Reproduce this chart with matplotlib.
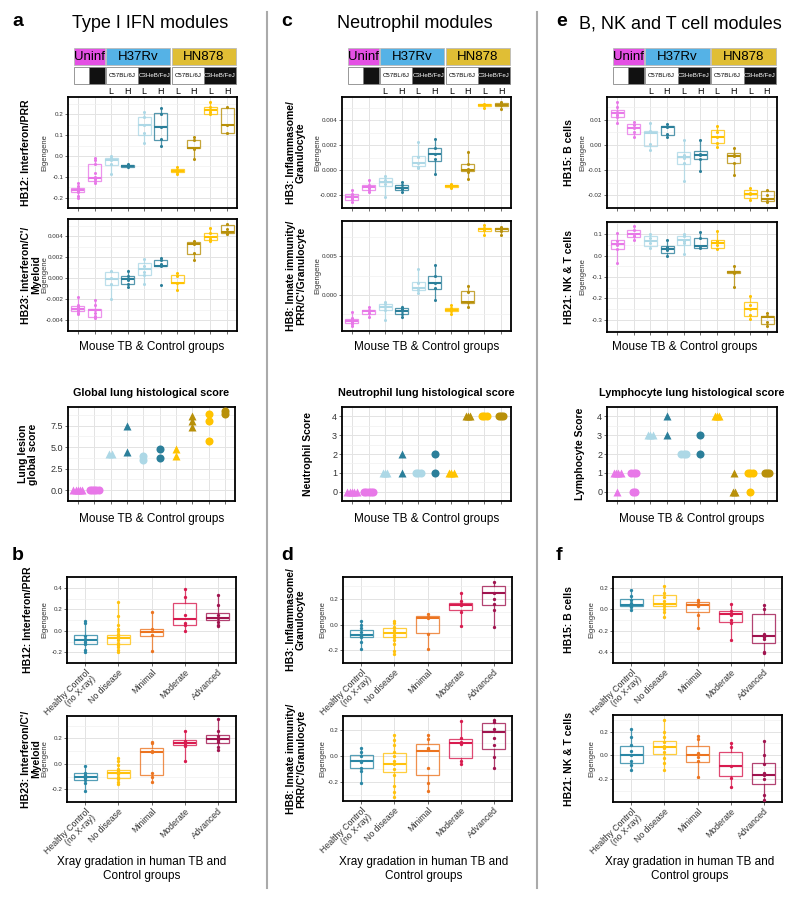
import matplotlib
matplotlib.use('Agg')
import matplotlib.pyplot as plt
import numpy as np
from matplotlib.colors import to_rgba
from matplotlib.lines import Line2D
from matplotlib.patches import Rectangle
from matplotlib.ticker import FormatStrFormatter

plt.rcParams['font.family'] = ['Liberation Sans', 'DejaVu Sans']

W, H = 800, 899

# -----------------------------------------------------------------------
# Groups, labels and colours
# -----------------------------------------------------------------------
INFECTIONS = ['Uninf', 'H37Rv', 'HN878']
STRAINS = ['', '', 'C57BL/6J', 'C3HeB/FeJ', 'C57BL/6J', 'C3HeB/FeJ']
DOSES = ['L', 'H', 'L', 'H', 'L', 'H', 'L', 'H']
HUMAN_GROUPS = ['Healthy Control\n(no X-ray)', 'No disease', 'Minimal',
                'Moderate', 'Advanced']

MOUSE_COLORS = ['#E878E8', '#E878E8', '#ADD8E6', '#2B7F9A', '#ADD8E6',
                '#2B7F9A', '#FFC300', '#B8900A', '#FFC300', '#B8900A']
MOUSE_SHAPES = ['^', 'o', '^', '^', 'o', 'o', '^', '^', 'o', 'o']
HUMAN_COLORS = ['#2A87A5', '#FFC20E', '#EC7420', '#D81B4F', '#A0144F']
HEADER_COLORS = ['#E450E4', '#55B2E6', '#E0BE35']

# -----------------------------------------------------------------------
# Data: boxes are [whisker low, q1, median, q3, whisker high]
# -----------------------------------------------------------------------
a_hb12_box = [[-0.19, -0.171, -0.165, -0.153, -0.13],
              [-0.13, -0.118, -0.105, -0.038, -0.01],
              [-0.085, -0.045, -0.02, -0.01, 0.0],
              [-0.058, -0.053, -0.048, -0.043, -0.038],
              [0.063, 0.10, 0.148, 0.188, 0.21],
              [0.047, 0.078, 0.14, 0.206, 0.233],
              [-0.085, -0.079, -0.07, -0.061, -0.055],
              [-0.015, 0.038, 0.04, 0.076, 0.092],
              [0.195, 0.203, 0.22, 0.237, 0.264],
              [0.104, 0.11, 0.15, 0.232, 0.237]]
a_hb12_pts = [[-0.13, -0.145, -0.155, -0.16, -0.165, -0.17, -0.175, -0.19, -0.2],
              [-0.01, -0.02, -0.04, -0.08, -0.1, -0.11, -0.12, -0.13],
              [0.0, -0.01, -0.02, -0.04, -0.085],
              [-0.04, -0.05, -0.055],
              [0.21, 0.19, 0.15, 0.11, 0.065],
              [0.23, 0.2, 0.14, 0.08, 0.05],
              [-0.055, -0.065, -0.075, -0.085],
              [0.09, 0.075, 0.04, 0.035, -0.015],
              [0.26, 0.235, 0.22, 0.21, 0.2],
              [0.235, 0.15, 0.11]]

a_hb23_box = [[-0.0034, -0.00308, -0.00287, -0.00267, -0.00184],
              [-0.00385, -0.00367, -0.0030, -0.00287, -0.00213],
              [-0.0020, -0.00065, -0.0001, 0.0006, 0.0007],
              [-0.0008, -0.0005, -0.0001, 0.00024, 0.00077],
              [-0.0005, 0.00033, 0.0009, 0.00142, 0.0018],
              [0.00113, 0.00113, 0.00121, 0.00172, 0.00187],
              [-0.0011, -0.00044, -0.0004, 0.0003, 0.0005],
              [0.0017, 0.0023, 0.0033, 0.0034, 0.00356],
              [0.00344, 0.00367, 0.00394, 0.00433, 0.00483],
              [0.00415, 0.00433, 0.00437, 0.00504, 0.0052]]
a_hb23_pts = [[-0.0018, -0.0025, -0.0027, -0.0029, -0.003, -0.0031, -0.0033, -0.0034],
              [-0.0021, -0.0025, -0.003, -0.0033, -0.0036, -0.0038],
              [0.0007, 0.0, -0.0005, -0.002],
              [0.0007, 0.0002, -0.0002, -0.0005, -0.0008],
              [0.0018, 0.0012, 0.0006, 0.0003, -0.0005],
              [0.0019, 0.0017, 0.0014, 0.0012, -0.0006],
              [0.0005, 0.0002, -0.0004, -0.0011],
              [0.0035, 0.0033, 0.0024, 0.0017],
              [0.0048, 0.0043, 0.0039, 0.0037, 0.0035],
              [0.0052, 0.0047, 0.0044, 0.0042]]

a_hist = [[0, 0, 0, 0, 0], [0, 0, 0, 0, 0], [4.2, 4.2], [7.5, 4.5], [4.0, 3.5],
          [4.75, 3.75], [4.75, 4.0], [8.6, 8.0, 7.3], [8.8, 8.0, 5.75], [9.25, 8.8]]

b_hb12_box = [[-0.2, -0.121, -0.09, -0.042, 0.09],
              [-0.2, -0.121, -0.07, -0.035, 0.27],
              [-0.195, -0.047, -0.015, 0.02, 0.168],
              [-0.005, 0.05, 0.11, 0.262, 0.39],
              [0.035, 0.10, 0.12, 0.168, 0.33]]
b_hb12_pts = [[0.09, 0.07, -0.05, -0.08, -0.09, -0.1, -0.12, -0.18, -0.2],
              [0.27, 0.14, 0.05, 0.02, 0.0, -0.03, -0.05, -0.07, -0.09, -0.11,
               -0.13, -0.15, -0.18, -0.2],
              [0.17, 0.02, -0.04, -0.19],
              [0.39, 0.31, 0.15, 0.07, 0.05, 0.0],
              [0.33, 0.24, 0.15, 0.12, 0.08, 0.05, 0.04]]

b_hb23_box = [[-0.215, -0.127, -0.105, -0.074, -0.02],
              [-0.163, -0.11, -0.075, -0.046, 0.048],
              [-0.144, -0.084, 0.09, 0.125, 0.172],
              [0.02, 0.146, 0.165, 0.184, 0.256],
              [0.112, 0.165, 0.195, 0.225, 0.352]]
b_hb23_pts = [[-0.02, -0.07, -0.09, -0.1, -0.11, -0.13, -0.15, -0.215],
              [0.048, 0.02, -0.01, -0.04, -0.06, -0.08, -0.1, -0.12, -0.14, -0.16],
              [0.17, 0.16, 0.1, 0.09, -0.07, -0.1, -0.14],
              [0.256, 0.18, 0.17, 0.16, 0.15, 0.14, 0.02],
              [0.35, 0.26, 0.22, 0.2, 0.19, 0.17, 0.13, 0.11]]

c_hb3_box = [[-0.00256, -0.00235, -0.00213, -0.00189, -0.0016],
             [-0.00176, -0.00155, -0.00133, -0.00115, -0.00075],
             [-0.0021, -0.00128, -0.00096, -0.0006, -0.00043],
             [-0.00176, -0.00155, -0.0014, -0.00115, -0.0009],
             [0.00019, 0.00032, 0.00059, 0.00117, 0.0023],
             [-0.0003, 0.00072, 0.00133, 0.00179, 0.0025],
             [-0.0014, -0.00133, -0.00125, -0.00115, -0.0011],
             [-0.00067, -0.00008, 0.00005, 0.00053, 0.00152],
             [0.0050, 0.00518, 0.00525, 0.0053, 0.0053],
             [0.00485, 0.00512, 0.0052, 0.00539, 0.00547]]
c_hb3_pts = [[-0.0016, -0.0019, -0.002, -0.0021, -0.0022, -0.0023, -0.0025],
             [-0.00075, -0.0012, -0.0013, -0.0014, -0.0016, -0.00176],
             [-0.00043, -0.0008, -0.0011, -0.0021],
             [-0.0009, -0.0012, -0.0014, -0.0015, -0.00176],
             [0.0023, 0.0011, 0.0006, 0.0003, 0.0002],
             [0.0025, 0.0018, 0.0013, 0.0009, -0.0003],
             [-0.0011, -0.0012, -0.0013, -0.0014],
             [0.0015, 0.0005, 0.0001, -0.0001, -0.00067],
             [0.0053, 0.0052, 0.005],
             [0.0055, 0.0053, 0.0052, 0.0049]]

c_hb8_box = [[-0.00405, -0.00362, -0.00336, -0.0031, -0.0022],
             [-0.00285, -0.00241, -0.00211, -0.0019, -0.00155],
             [-0.0033, -0.00198, -0.00155, -0.00112, -0.0009],
             [-0.00293, -0.00241, -0.0021, -0.00168, -0.00147],
             [0.00026, 0.0006, 0.0009, 0.00168, 0.0034],
             [-0.0007, 0.00082, 0.00155, 0.00241, 0.0039],
             [-0.00241, -0.00211, -0.0019, -0.00168, -0.00134],
             [-0.00155, -0.00099, -0.0009, 0.00047, 0.00125],
             [0.0078, 0.0083, 0.0085, 0.0086, 0.0091],
             [0.0077, 0.0083, 0.0085, 0.0086, 0.0088]]
c_hb8_pts = [[-0.0022, -0.003, -0.0033, -0.0034, -0.0035, -0.0037, -0.004],
             [-0.00155, -0.0019, -0.0021, -0.0023, -0.0028],
             [-0.0009, -0.0012, -0.0016, -0.0019, -0.0033],
             [-0.0015, -0.0018, -0.0021, -0.0024, -0.0029],
             [0.0034, 0.0015, 0.0009, 0.0007, 0.0003],
             [0.0039, 0.0024, 0.0015, 0.0009, -0.0007],
             [-0.0013, -0.0017, -0.0019, -0.0021, -0.0024],
             [0.0012, 0.0004, -0.0009, -0.0015],
             [0.0091, 0.0086, 0.0084, 0.0078],
             [0.0088, 0.0085, 0.0083, 0.0077]]

c_hist = [[0, 0, 0, 0, 0], [0, 0, 0, 0, 0], [1, 1, 1], [2, 1], [1, 1, 1],
          [2, 1], [1, 1, 1], [4, 4, 4], [4, 4, 4], [4, 4, 4]]

d_hb3_box = [[-0.187, -0.097, -0.085, -0.044, 0.03],
             [-0.23, -0.10, -0.065, -0.03, 0.03],
             [-0.187, -0.065, 0.05, 0.063, 0.08],
             [-0.01, 0.114, 0.155, 0.172, 0.255],
             [-0.02, 0.153, 0.25, 0.30, 0.335]]
d_hb3_pts = [[0.03, 0.0, -0.03, -0.06, -0.08, -0.09, -0.1, -0.14, -0.19],
             [0.03, 0.01, -0.02, -0.04, -0.06, -0.08, -0.1, -0.12, -0.15, -0.21, -0.23],
             [0.08, 0.06, 0.05, -0.07, -0.19],
             [0.25, 0.18, 0.16, 0.15, 0.1, -0.01],
             [0.33, 0.25, 0.2, 0.16, 0.11, -0.02]]

d_hb8_box = [[-0.209, -0.093, -0.04, 0.01, 0.057],
             [-0.317, -0.124, -0.06, 0.023, 0.16],
             [-0.274, -0.15, 0.04, 0.088, 0.16],
             [-0.065, -0.013, 0.10, 0.132, 0.271],
             [-0.093, 0.054, 0.18, 0.255, 0.281]]
d_hb8_pts = [[0.057, 0.03, 0.0, -0.04, -0.05, -0.09, -0.12, -0.21],
             [0.16, 0.12, 0.08, 0.03, 0.0, -0.04, -0.06, -0.1, -0.15, -0.23, -0.28, -0.32],
             [0.16, 0.13, 0.06, 0.05, -0.09, -0.21, -0.27],
             [0.27, 0.14, 0.11, 0.09, -0.04, -0.065],
             [0.28, 0.26, 0.21, 0.14, 0.08, -0.01, -0.09]]

e_hb15_box = [[0.0088, 0.0112, 0.0125, 0.0138, 0.017],
              [0.0031, 0.0044, 0.0066, 0.0083, 0.0092],
              [-0.002, -0.0005, 0.0049, 0.0055, 0.0088],
              [0.0031, 0.0040, 0.0070, 0.0075, 0.0083],
              [-0.0142, -0.0077, -0.0048, -0.0029, 0.0021],
              [-0.0105, -0.0055, -0.0040, -0.0025, 0.0021],
              [-0.0009, 0.0008, 0.0030, 0.0060, 0.0075],
              [-0.012, -0.0073, -0.0045, -0.0031, -0.0014],
              [-0.0217, -0.0209, -0.0195, -0.0180, -0.0171],
              [-0.0226, -0.0222, -0.0213, -0.0184, -0.0177]]
e_hb15_pts = [[0.017, 0.015, 0.013, 0.0125, 0.012, 0.011, 0.0088],
              [0.0092, 0.008, 0.0066, 0.005, 0.0031],
              [0.0088, 0.0055, 0.0005, -0.002],
              [0.0083, 0.007, 0.0045, 0.0031],
              [0.0021, -0.004, -0.005, -0.007, -0.0142],
              [0.0021, -0.0035, -0.004, -0.0055, -0.0105],
              [0.0075, 0.005, 0.003, 0.0009, -0.0009],
              [-0.0014, -0.004, -0.0045, -0.007, -0.012],
              [-0.0171, -0.019, -0.0195, -0.0217],
              [-0.0177, -0.02, -0.0215, -0.0226]]

e_hb21_box = [[-0.033, 0.03, 0.055, 0.074, 0.107],
              [0.071, 0.087, 0.10, 0.118, 0.138],
              [0.033, 0.045, 0.07, 0.09, 0.102],
              [-0.003, 0.014, 0.03, 0.043, 0.071],
              [0.009, 0.051, 0.075, 0.09, 0.102],
              [0.037, 0.037, 0.045, 0.084, 0.11],
              [0.031, 0.033, 0.06, 0.071, 0.115],
              [-0.146, -0.084, -0.078, -0.073, -0.048],
              [-0.295, -0.281, -0.25, -0.219, -0.188],
              [-0.332, -0.319, -0.29, -0.282, -0.27]]
e_hb21_pts = [[0.107, 0.07, 0.055, 0.05, 0.03, -0.033],
              [0.138, 0.12, 0.1, 0.09, 0.071],
              [0.102, 0.08, 0.06, 0.033],
              [0.071, 0.04, 0.025, -0.003],
              [0.102, 0.09, 0.07, 0.06, 0.009],
              [0.11, 0.08, 0.045, 0.037],
              [0.115, 0.07, 0.05, 0.031],
              [-0.048, -0.075, -0.08, -0.146],
              [-0.188, -0.23, -0.25, -0.28, -0.295],
              [-0.27, -0.285, -0.31, -0.332]]

e_hist = [[1, 1, 1, 1, 0], [1, 1, 1, 0, 0], [3, 3, 3], [4, 3], [2, 2, 2],
          [3, 2], [4, 4, 4], [1, 0, 0], [1, 1, 1, 0], [1, 1, 1]]

f_hb15_box = [[-0.005, 0.027, 0.04, 0.093, 0.18],
              [-0.075, 0.027, 0.05, 0.133, 0.22],
              [-0.168, -0.027, 0.04, 0.067, 0.093],
              [-0.288, -0.115, -0.045, -0.019, 0.053],
              [-0.408, -0.312, -0.245, -0.04, 0.04]]
f_hb15_pts = [[0.18, 0.12, 0.09, 0.06, 0.04, 0.03, 0.02, -0.005],
              [0.22, 0.15, 0.11, 0.08, 0.05, 0.03, 0.0, -0.03, -0.075],
              [0.09, 0.07, 0.04, 0.03, -0.05, -0.17],
              [0.05, -0.02, -0.04, -0.05, -0.1, -0.13, -0.29],
              [0.04, 0.0, -0.23, -0.26, -0.28, -0.4, -0.41]]

f_hb21_box = [[-0.121, -0.059, 0.0, 0.082, 0.217],
              [-0.121, 0.011, 0.07, 0.118, 0.301],
              [-0.183, -0.051, 0.0, 0.076, 0.16],
              [-0.262, -0.172, -0.09, 0.025, 0.104],
              [-0.369, -0.239, -0.16, -0.059, 0.124]]
f_hb21_pts = [[0.22, 0.15, 0.09, 0.04, 0.0, -0.05, -0.08, -0.12],
              [0.3, 0.2, 0.15, 0.11, 0.08, 0.06, 0.03, -0.02, -0.06, -0.12],
              [0.16, 0.14, 0.02, -0.01, -0.05, -0.18],
              [0.1, 0.07, -0.09, -0.19, -0.26],
              [0.12, 0.0, -0.07, -0.15, -0.16, -0.2, -0.33, -0.37]]


# -----------------------------------------------------------------------
# Helpers
# -----------------------------------------------------------------------

def px_axes(fig, x0, y0, x1, y1):
    return fig.add_axes([x0 / W, 1 - y1 / H, (x1 - x0) / W, (y1 - y0) / H])


def px_text(fig, x, y, s, **kw):
    kw.setdefault('ha', 'center')
    kw.setdefault('va', 'center')
    fig.text(x / W, 1 - y / H, s, **kw)


def style_axes(ax, n, xlim, ylim, yticks, yfmt, ticksize=4.5):
    ax.set_xlim(*xlim)
    ax.set_ylim(*ylim)
    ax.set_xticks(range(1, n + 1))
    ax.set_yticks(yticks)
    step = yticks[1] - yticks[0]
    ax.set_yticks(np.arange(yticks[0] - step / 2, yticks[-1] + step, step), minor=True)
    ax.yaxis.set_major_formatter(FormatStrFormatter(yfmt))
    ax.grid(True, which='major', color='#E3E3E3', lw=0.7)
    ax.grid(True, which='minor', axis='y', color='#F0F0F0', lw=0.5)
    ax.set_axisbelow(True)
    for sp in ax.spines.values():
        sp.set_linewidth(1.3)
    ax.tick_params(axis='y', which='minor', length=0)
    ax.tick_params(axis='both', which='major', labelsize=ticksize, length=2,
                   width=0.5, pad=1.5, colors='#333333', labelcolor='#333333')
    ax.set_xticklabels([])


def draw_boxes(ax, boxes, points, colors, width, ms=2.2):
    for i, (b, pts, c) in enumerate(zip(boxes, points, colors)):
        st = dict(whislo=b[0], q1=b[1], med=b[2], q3=b[3], whishi=b[4], fliers=[])
        edge = to_rgba(c, 0.8)
        ax.bxp([st], positions=[i + 1], widths=width, showcaps=False,
               patch_artist=True, manage_ticks=False,
               boxprops=dict(facecolor='none', edgecolor=edge, lw=0.9),
               medianprops=dict(color=c, lw=1.5),
               whiskerprops=dict(color=edge, lw=0.9))
        ax.plot([i + 1] * len(pts), pts, 'o', color=c, ms=ms, mec='none', zorder=3)


def draw_hist(ax, values):
    for i, vals in enumerate(values):
        vals = np.asarray(vals, dtype=float)
        for v in np.unique(vals):
            m = int(np.sum(vals == v))
            offs = (np.arange(m) - (m - 1) / 2) * 0.14
            ax.plot(i + 1 + offs, [v] * m, MOUSE_SHAPES[i], color=MOUSE_COLORS[i],
                    ms=5.8, mec='none', zorder=3)


def draw_header(fig, x0, x1):
    ax = px_axes(fig, x0, 46, x1, 97)
    ax.set_xlim(0.4, 10.6)
    ax.set_ylim(97, 46)
    ax.axis('off')
    spans = [(0.75, 2.62), (2.68, 6.58), (6.66, 10.55)]
    for (a, b), name, col in zip(spans, INFECTIONS, HEADER_COLORS):
        ax.add_patch(Rectangle((a, 48), b - a, 17, facecolor=col,
                               edgecolor='#BBBBBB', lw=0.6))
        ax.text((a + b) / 2, 57, name, ha='center', va='center', fontsize=9.5)
    cuts = [0.75, 1.68, 2.62, 2.68, 4.63, 6.58, 6.66, 8.6, 10.55]
    strain_spans = [(cuts[0], cuts[1]), (cuts[1], cuts[2]), (cuts[3], cuts[4]),
                    (cuts[4], cuts[5]), (cuts[6], cuts[7]), (cuts[7], cuts[8])]
    for k, ((a, b), name) in enumerate(zip(strain_spans, STRAINS)):
        face = 'white' if k % 2 == 0 else '#111111'
        tc = 'black' if k % 2 == 0 else 'white'
        ax.add_patch(Rectangle((a, 67), b - a, 17, facecolor=face,
                               edgecolor='#888888', lw=0.6))
        if name:
            ax.text((a + b) / 2, 75.5, name, ha='center', va='center',
                    fontsize=4.4, color=tc)
    for k, d in enumerate(DOSES):
        ax.text(k + 3, 91.5, d, ha='center', va='center', fontsize=6.5)


def mouse_panel(fig, x0, y0, x1, y1, boxes, pts, ylim, yticks, yfmt,
                label, label_x, eig_x):
    ax = px_axes(fig, x0, y0, x1, y1)
    style_axes(ax, 10, (0.4, 10.6), ylim, yticks, yfmt)
    draw_boxes(ax, boxes, pts, MOUSE_COLORS, 0.78)
    px_text(fig, label_x, (y0 + y1) / 2, label, rotation=90, fontsize=7.5,
            fontweight='bold', linespacing=1.0)
    px_text(fig, eig_x, (y0 + y1) / 2, 'Eigengene', rotation=90, fontsize=5.5,
            color='#333333')
    return ax


def human_panel(fig, x0, y0, x1, y1, boxes, pts, ylim, yticks, yfmt,
                label, label_x, eig_x):
    ax = px_axes(fig, x0, y0, x1, y1)
    style_axes(ax, 5, (0.45, 5.55), ylim, yticks, yfmt)
    draw_boxes(ax, boxes, pts, HUMAN_COLORS, 0.7, ms=2.4)
    ax.set_xticklabels(HUMAN_GROUPS, rotation=45, ha='right',
                       rotation_mode='anchor', fontsize=6.3, linespacing=0.95)
    ax.tick_params(axis='x', labelcolor='#333333', pad=1.5)
    px_text(fig, label_x, (y0 + y1) / 2, label, rotation=90, fontsize=7.5,
            fontweight='bold', linespacing=1.0)
    px_text(fig, eig_x, (y0 + y1) / 2, 'Eigengene', rotation=90, fontsize=5.5,
            color='#333333')
    return ax


def hist_panel(fig, x0, x1, values, ylim, yticks, yfmt, title, ylabel, ylabel_x):
    y0, y1 = 407, 501
    ax = px_axes(fig, x0, y0, x1, y1)
    style_axes(ax, 10, (0.4, 10.6), ylim, yticks, yfmt, ticksize=6.5)
    draw_hist(ax, values)
    px_text(fig, (x0 + x1) / 2, 393, title, fontsize=7.8, fontweight='bold')
    px_text(fig, ylabel_x, (y0 + y1) / 2, ylabel, rotation=90, fontsize=7.5,
            fontweight='bold', linespacing=1.0)
    px_text(fig, (x0 + x1) / 2, 519, 'Mouse TB & Control groups', fontsize=8.5)
    return ax


# -----------------------------------------------------------------------
# Figure
# -----------------------------------------------------------------------
fig = plt.figure(figsize=(W / 100, H / 100), dpi=100)

for xs in (267, 537):
    fig.add_artist(Line2D([xs / W, xs / W], [1 - 12 / H, 1 - 888 / H],
                          color='#AAAAAA', lw=1.5))

XLABEL_H = 'Xray gradation in human TB and\nControl groups'

# column a / b
px_text(fig, 18, 22, 'a', fontsize=14, fontweight='bold')
px_text(fig, 150, 24, 'Type I IFN modules', fontsize=13)
draw_header(fig, 68, 237)
mouse_panel(fig, 68, 97, 237, 208, a_hb12_box, a_hb12_pts, (-0.225, 0.284),
            [-0.2, -0.1, 0.0, 0.1, 0.2], '%.1f', 'HB12: Interferon/PRR', 26, 45)
mouse_panel(fig, 68, 219, 237, 331, a_hb23_box, a_hb23_pts, (-0.00427, 0.00563),
            [-0.004, -0.002, 0.0, 0.002, 0.004], '%.3f',
            "HB23: Interferon/C'/\nMyeloid", 31, 45)
px_text(fig, 152, 347, 'Mouse TB & Control groups', fontsize=8.5)
hist_panel(fig, 68, 235, a_hist, (-0.47, 9.67), [0.0, 2.5, 5.0, 7.5], '%.1f',
           'Global lung histological score', 'Lung lesion\nglobal score', 28)
px_text(fig, 18, 555, 'b', fontsize=14, fontweight='bold')
human_panel(fig, 67, 577, 236, 663, b_hb12_box, b_hb12_pts, (-0.222, 0.41),
            [-0.2, 0.0, 0.2, 0.4], '%.1f', 'HB12: Interferon/PRR', 28, 45)
human_panel(fig, 67, 716, 236, 802, b_hb23_box, b_hb23_pts, (-0.24, 0.376),
            [-0.2, 0.0, 0.2], '%.1f', "HB23: Interferon/C'/\nMyeloid", 31, 45)
px_text(fig, 142, 869, XLABEL_H, fontsize=8.5, linespacing=1.3)

# column c / d
px_text(fig, 287, 22, 'c', fontsize=14, fontweight='bold')
px_text(fig, 415, 24, 'Neutrophil modules', fontsize=13)
draw_header(fig, 342, 511)
mouse_panel(fig, 342, 97, 511, 208, c_hb3_box, c_hb3_pts, (-0.003, 0.00587),
            [-0.002, 0.0, 0.002, 0.004], '%.3f',
            'HB3: Inflammasome/\nGranulocyte', 296, 318)
mouse_panel(fig, 342, 221, 511, 331, c_hb8_box, c_hb8_pts, (-0.00466, 0.00957),
            [0.0, 0.005], '%.3f',
            "HB8: Innate immunity/\nPRR/C'/Granulocyte", 296, 318)
px_text(fig, 427, 347, 'Mouse TB & Control groups', fontsize=8.5)
hist_panel(fig, 342, 511, c_hist, (-0.19, 4.15), [0, 1, 2, 3, 4], '%d',
           'Neutrophil lung histological score', 'Neutrophil Score', 308)
px_text(fig, 287, 555, 'd', fontsize=14, fontweight='bold')
human_panel(fig, 343, 577, 512, 663, d_hb3_box, d_hb3_pts, (-0.255, 0.371),
            [-0.2, 0.0, 0.2], '%.1f', 'HB3: Inflammasome/\nGranulocyte', 296, 323)
human_panel(fig, 343, 716, 512, 801, d_hb8_box, d_hb8_pts, (-0.348, 0.307),
            [-0.2, 0.0, 0.2], '%.1f', "HB8: Innate immunity/\nPRR/C'/Granulocyte",
            296, 323)
px_text(fig, 424, 869, XLABEL_H, fontsize=8.5, linespacing=1.3)

# column e / f
px_text(fig, 562, 22, 'e', fontsize=14, fontweight='bold')
px_text(fig, 680, 24, 'B, NK and T cell modules', fontsize=13)
draw_header(fig, 607, 777)
mouse_panel(fig, 607, 97, 777, 208, e_hb15_box, e_hb15_pts, (-0.0244, 0.019),
            [-0.02, -0.01, 0.0, 0.01], '%.2f', 'HB15: B cells', 569, 583)
mouse_panel(fig, 607, 222, 777, 332, e_hb21_box, e_hb21_pts, (-0.358, 0.157),
            [-0.3, -0.2, -0.1, 0.0, 0.1], '%.1f', 'HB21: NK & T cells', 569, 583)
px_text(fig, 685, 347, 'Mouse TB & Control groups', fontsize=8.5)
hist_panel(fig, 607, 777, e_hist, (-0.2, 4.17), [0, 1, 2, 3, 4], '%d',
           'Lymphocyte lung histological score', 'Lymphocyte Score', 580)
px_text(fig, 559, 555, 'f', fontsize=14, fontweight='bold')
human_panel(fig, 613, 577, 782, 663, f_hb15_box, f_hb15_pts, (-0.44, 0.248),
            [-0.4, -0.2, 0.0, 0.2], '%.1f', 'HB15: B cells', 569, 592)
human_panel(fig, 613, 715, 782, 802, f_hb21_box, f_hb21_pts, (-0.389, 0.338),
            [-0.2, 0.0, 0.2], '%.1f', 'HB21: NK & T cells', 569, 592)
px_text(fig, 690, 869, XLABEL_H, fontsize=8.5, linespacing=1.3)

fig.savefig('out.png', dpi=100)
